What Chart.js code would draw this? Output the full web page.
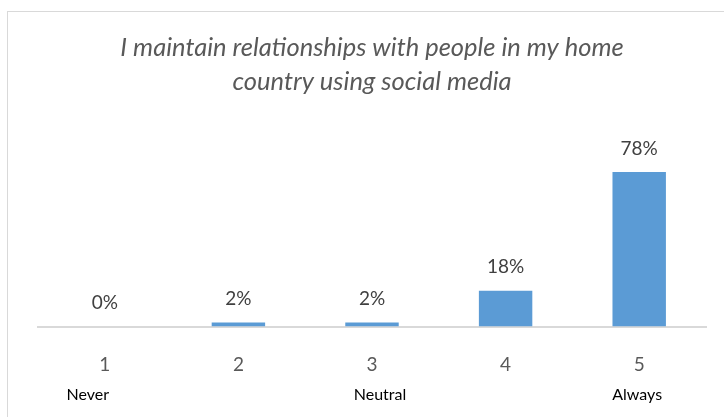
<!DOCTYPE html>
<html>
<head>
<meta charset="utf-8">
<script src="https://cdn.jsdelivr.net/npm/chart.js@4"></script>
<style>
  html, body { margin: 0; padding: 0; background: #fff; overflow: hidden; }
  #wrap { position: relative; width: 724px; height: 417px; }
  #frame { position: absolute; left: 7px; top: 11px; width: 800px; height: 500px; border: 1px solid #d9d9d9; box-sizing: border-box; }
  canvas { position: absolute; left: 0; top: 0; }
</style>
</head>
<body>
<div id="wrap">
  <div id="frame"></div>
  <canvas id="chart" width="724" height="417"></canvas>
</div>
<script>
const categories = ['1', '2', '3', '4', '5'];
const percents = [0, 2, 2, 18, 78];
const scaleNames = ['Never', '', 'Neutral', '', 'Always'];
const nameShift = [-17, 0, 8, 0, -2];

// value text above each bar
const valueLabels = {
  id: 'valueLabels',
  afterDatasetsDraw(chart) {
    const ctx = chart.ctx;
    const meta = chart.getDatasetMeta(0);
    ctx.save();
    ctx.font = '19px Lato, "Open Sans", sans-serif';
    ctx.fillStyle = '#404040';
    ctx.textAlign = 'center';
    ctx.textBaseline = 'middle';
    meta.data.forEach((bar, i) => {
      ctx.fillText(percents[i] + '%', bar.x, bar.y - 23.5);
    });
    ctx.restore();
  }
};

// Never / Neutral / Always under the numbers
const scaleText = {
  id: 'scaleText',
  afterDraw(chart) {
    const ctx = chart.ctx;
    const x = chart.scales.x;
    ctx.save();
    ctx.font = '16px Lato, "Open Sans", sans-serif';
    ctx.fillStyle = '#000';
    ctx.textAlign = 'center';
    ctx.textBaseline = 'middle';
    scaleNames.forEach((name, i) => {
      if (name) ctx.fillText(name, x.getPixelForValue(i) + nameShift[i], 395);
    });
    ctx.restore();
  }
};

new Chart(document.getElementById('chart'), {
  type: 'bar',
  data: {
    labels: categories,
    datasets: [{
      data: percents,
      backgroundColor: '#5b9bd5',
      borderWidth: 0,
      barPercentage: 0.4,
      categoryPercentage: 1
    }]
  },
  options: {
    responsive: false,
    animation: false,
    layout: { padding: { left: 38, right: 18, top: 0, bottom: 0 } },
    scales: {
      x: {
        grid: { display: false },
        border: { display: true, color: '#d9d9d9', width: 2 },
        ticks: { color: '#595959', font: { size: 19, family: 'Lato, "Open Sans", sans-serif' }, padding: 19 },
        afterFit(scale) { scale.height = 90.5; }
      },
      y: {
        display: false,
        min: 0,
        max: 100
      }
    },
    plugins: {
      legend: { display: false },
      tooltip: { enabled: false },
      title: {
        display: true,
        text: ['I maintain relationships with people in my home', 'country using social media'],
        color: '#595959',
        font: { size: 25.5, style: 'italic', weight: 'normal', family: 'Lato, "Open Sans", sans-serif', lineHeight: 1.32 },
        padding: { top: 31.2, bottom: 30 }
      }
    }
  },
  plugins: [valueLabels, scaleText]
});
</script>
</body>
</html>
